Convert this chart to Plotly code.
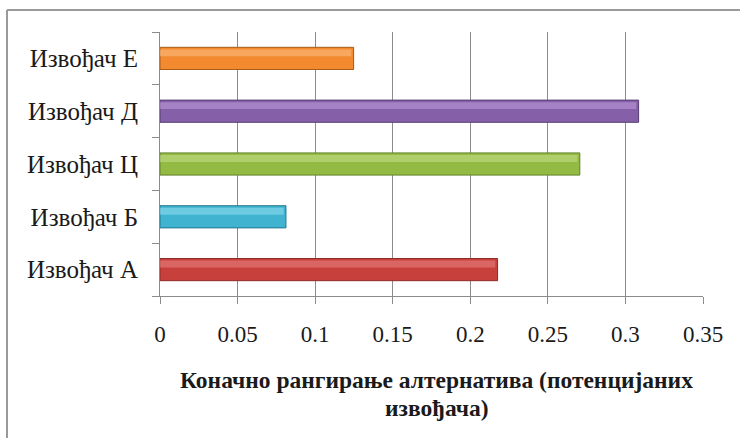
import plotly.graph_objects as go

# Final ranking of alternatives (potential contractors)
categories = ["Извођач А", "Извођач Б", "Извођач Ц", "Извођач Д", "Извођач Е"]
scores = [0.2176, 0.0812, 0.2706, 0.3085, 0.1248]
bar_colors = ["#C8403C", "#3FB3CF", "#93BB44", "#8560A8", "#F38A30"]
shine_colors = ["#E98C88", "#9CE6F5", "#CBE494", "#C3A4E2", "#FCC78C"]
edge_colors = ["#8E2A27", "#23798F", "#62802C", "#553C70", "#A85A18"]
x_ticks = [0, 0.05, 0.1, 0.15, 0.2, 0.25, 0.3, 0.35]
x_tick_text = ["0", "0.05", "0.1", "0.15", "0.2", "0.25", "0.3", "0.35"]
x_title_lines = ["Коначно рангирање алтернатива (потенцијаних", "извођача)"]

serif = "Liberation Serif, Times New Roman, serif"

fig = go.Figure()
fig.add_trace(
    go.Bar(
        x=scores,
        y=categories,
        orientation="h",
        width=0.42,
        marker=dict(color=bar_colors, line=dict(color=edge_colors, width=1)),
        hoverinfo="x+y",
    )
)
# soft light band along the upper part of each bar for a glossy look
fig.add_trace(
    go.Bar(
        x=[v - 0.0015 for v in scores],
        y=categories,
        orientation="h",
        width=0.13,
        offset=0.04,
        marker=dict(color=shine_colors, line=dict(width=0)),
        opacity=0.5,
        hoverinfo="skip",
    )
)

# two-line bold axis title, drawn as separate lines for tighter spacing
title_annotations = [
    dict(text="<b>" + line + "</b>", xref="paper", yref="paper", x=0.51, y=yy,
         xanchor="center", yanchor="middle", showarrow=False,
         font=dict(family=serif, size=23.5, color="#1a1a1a"))
    for line, yy in zip(x_title_lines, [-0.318, -0.424])
]

fig.update_layout(
    width=741,
    height=438,
    margin=dict(l=160, r=38, t=32, b=142),
    barmode="overlay",
    paper_bgcolor="white",
    plot_bgcolor="white",
    showlegend=False,
    font=dict(family=serif, size=23, color="#1a1a1a"),
    annotations=title_annotations,
    shapes=[
        # outer chart frame
        dict(type="line", xref="paper", yref="paper", x0=-153 / 543, x1=580 / 543,
             y0=(438 - 10 - 142) / 264, y1=(438 - 10 - 142) / 264,
             line=dict(color="#9a9a9a", width=2)),
        dict(type="line", xref="paper", yref="paper", x0=-153 / 543, x1=-153 / 543,
             y0=(438 - 10 - 142) / 264, y1=-150 / 264,
             line=dict(color="#9a9a9a", width=2)),
    ],
)

fig.update_xaxes(
    range=[0, 0.35],
    tickvals=x_ticks,
    ticktext=x_tick_text,
    showgrid=True,
    gridcolor="#8c8c8c",
    gridwidth=1,
    showline=True,
    linecolor="#8c8c8c",
    ticks="outside",
    ticklen=7,
    tickcolor="#8c8c8c",
    tickfont=dict(size=23, family=serif),
    ticklabelstandoff=10,
    zeroline=False,
)

fig.update_yaxes(
    categoryorder="array",
    categoryarray=categories,
    showline=True,
    linecolor="#8c8c8c",
    ticks="outside",
    ticklen=7,
    tickcolor="#8c8c8c",
    tickson="boundaries",
    tickfont=dict(size=25, family=serif),
    ticklabelstandoff=16,
    showgrid=False,
)

fig.write_html("out.html")
